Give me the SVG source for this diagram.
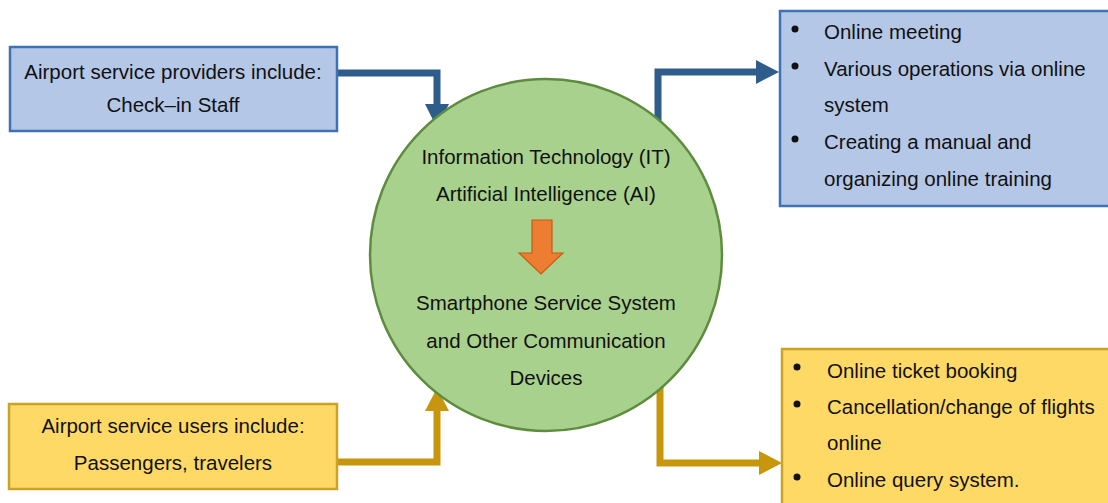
<svg xmlns="http://www.w3.org/2000/svg" width="1108" height="503" viewBox="0 0 1108 503">
  <style>
    text { font-family: "Liberation Sans", Arial, sans-serif; font-size: 20.5px; fill: #111; }
    .c { text-anchor: middle; }
    .blue-box { fill: #b4c7e7; stroke: #3f72b4; stroke-width: 2.5; }
    .gold-box { fill: #ffd966; stroke: #c9a227; stroke-width: 2.5; }
    .blue-line { fill: none; stroke: #2e5d8b; stroke-width: 7; }
    .gold-line { fill: none; stroke: #c8960c; stroke-width: 7; }
    .blue-head { fill: #2e5d8b; }
    .gold-head { fill: #c8960c; }
  </style>
  <rect width="1108" height="503" fill="#ffffff"/>

  <!-- connectors -->
  <g id="connectors">
    <path class="blue-line" d="M337 73 H437 V108"/>
    <polygon class="blue-head" points="425,104 449,104 437,128"/>
    <path class="blue-line" d="M658 128 V72 H760"/>
    <polygon class="blue-head" points="756,60 756,84 779,72"/>
    <path class="gold-line" d="M337 462 H437 V408"/>
    <polygon class="gold-head" points="425,411 449,411 437,388"/>
    <path class="gold-line" d="M660 380 V463 H763"/>
    <polygon class="gold-head" points="759,451 759,475 782,463"/>
  </g>

  <!-- central circle -->
  <g id="core">
    <circle cx="546" cy="255" r="176" fill="#a9d18e" stroke="#5e8c3e" stroke-width="2.5"/>
    <text class="c" x="546" y="164">Information Technology (IT)</text>
    <text class="c" x="546" y="201">Artificial Intelligence (AI)</text>
    <polygon points="532,220 552,220 552,253 563,253 541,274 519,253 532,253" fill="#ed7d31" stroke="#c55a11" stroke-width="1.2"/>
    <text class="c" x="546" y="310">Smartphone Service System</text>
    <text class="c" x="546" y="348">and Other Communication</text>
    <text class="c" x="546" y="385">Devices</text>
  </g>

  <!-- providers -->
  <g id="providers">
    <rect class="blue-box" x="10" y="47" width="327" height="84"/>
    <text class="c" x="173" y="79">Airport service providers include:</text>
    <text class="c" x="173" y="112">Check–in Staff</text>
  </g>

  <!-- users -->
  <g id="users">
    <rect class="gold-box" x="9" y="404" width="328" height="85"/>
    <text class="c" x="173" y="433">Airport service users include:</text>
    <text class="c" x="173" y="470">Passengers, travelers</text>
  </g>

  <!-- staff outcomes -->
  <g id="staff-outcomes">
    <rect class="blue-box" x="780" y="11" width="330" height="195"/>
    <circle cx="795" cy="29" r="3.5" fill="#111"/>
    <text x="824" y="39">Online meeting</text>
    <circle cx="795" cy="66" r="3.5" fill="#111"/>
    <text x="824" y="76">Various operations via online</text>
    <text x="824" y="112">system</text>
    <circle cx="795" cy="139" r="3.5" fill="#111"/>
    <text x="824" y="149">Creating a manual and</text>
    <text x="824" y="186">organizing online training</text>
  </g>

  <!-- passenger outcomes -->
  <g id="passenger-outcomes">
    <rect class="gold-box" x="782" y="349" width="330" height="160"/>
    <circle cx="797" cy="367" r="3.5" fill="#111"/>
    <text x="827" y="378">Online ticket booking</text>
    <circle cx="797" cy="404" r="3.5" fill="#111"/>
    <text x="827" y="414">Cancellation/change of flights</text>
    <text x="827" y="450">online</text>
    <circle cx="797" cy="477" r="3.5" fill="#111"/>
    <text x="827" y="487">Online query system.</text>
  </g>
</svg>
